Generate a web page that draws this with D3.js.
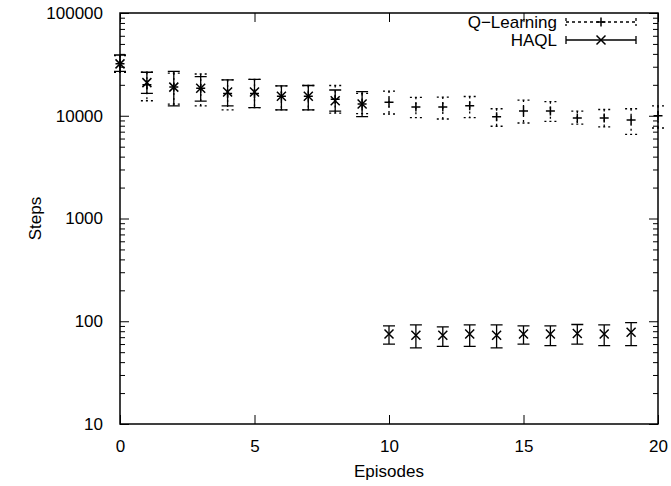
<!DOCTYPE html>
<html>
<head>
<meta charset="utf-8">
<script src="https://cdn.jsdelivr.net/npm/d3@7"></script>
<style>
  body { margin: 0; background: #fff; }
  svg { display: block; font-family: 'Liberation Sans', Arial, sans-serif; }
</style>
</head>
<body>
<script>
const width = 671
const height = 486
const margin = { top: 13, right: 13, bottom: 62, left: 120 }

// Q-Learning: episodes 0..20
const qEpisodes = [0, 1, 2, 3, 4, 5, 6, 7, 8, 9, 10, 11, 12, 13, 14, 15, 16, 17, 18, 19, 20]
const qMean = [32000, 20000, 19000, 18500, 16500, 16500, 15500, 15500, 14500, 13000, 13500, 12200, 12200, 12500, 9800, 11100, 11100, 9500, 9500, 9100, 10000]
const qLow = [26500, 14000, 13000, 12500, 11400, 12000, 11400, 11400, 10600, 10500, 10400, 9600, 9300, 9600, 7900, 8500, 8800, 8300, 7800, 6600, 7600]
const qHigh = [38500, 26500, 26000, 25500, 22300, 22600, 19500, 19700, 19700, 16500, 17400, 15100, 15200, 15400, 11700, 14200, 13700, 11100, 11500, 11700, 12500]

// HAQL: episodes 0..19
const hEpisodes = [0, 1, 2, 3, 4, 5, 6, 7, 8, 9, 10, 11, 12, 13, 14, 15, 16, 17, 18, 19]
const hMean = [32000, 21000, 19000, 18500, 17000, 17000, 15500, 15500, 14000, 13000, 75, 73, 73, 75, 73, 75, 75, 76, 75, 78]
const hLow = [27000, 16500, 12500, 13900, 12500, 12000, 11400, 11400, 11100, 9800, 60, 55, 57, 57, 55, 60, 58, 60, 58, 58]
const hHigh = [39000, 26500, 27000, 24000, 22300, 22600, 19500, 19700, 17800, 17200, 90, 92, 88, 92, 92, 90, 90, 93, 92, 97]

const xTicks = [0, 5, 10, 15, 20]
const yTicks = [10, 100, 1000, 10000, 100000]

const x = d3.scaleLinear().domain([0, 20]).range([margin.left, width - margin.right])
const y = d3.scaleLog().domain([10, 100000]).range([height - margin.bottom, margin.top])

const yMinor = []
for (const decade of [10, 100, 1000, 10000]) {
  for (let k = 2; k <= 9; k++) yMinor.push(decade * k)
}

const svg = d3.select('body').append('svg')
  .attr('width', width)
  .attr('height', height)

const fontSize = 17

// axes (ticks drawn inward, mirrored like gnuplot)
const styleAxis = (g) => {
  g.select('.domain').remove()
  g.selectAll('.tick line').attr('stroke', '#000').attr('stroke-width', 1)
  g.selectAll('.tick text').attr('font-size', fontSize).attr('fill', '#000')
    .attr('font-family', "'Liberation Sans', Arial, sans-serif")
}

svg.append('g')
  .attr('transform', `translate(0,${height - margin.bottom})`)
  .call(d3.axisBottom(x).tickValues(xTicks).tickSizeInner(-9).tickSizeOuter(0).tickPadding(16).tickFormat(d3.format('d')))
  .call(styleAxis)

svg.append('g')
  .attr('transform', `translate(0,${margin.top})`)
  .call(d3.axisTop(x).tickValues(xTicks).tickSizeInner(-9).tickSizeOuter(0).tickFormat(''))
  .call(styleAxis)

svg.append('g')
  .attr('transform', `translate(${margin.left},0)`)
  .call(d3.axisLeft(y).tickValues(yTicks).tickSizeInner(-9).tickSizeOuter(0).tickPadding(17).tickFormat(d3.format('d')))
  .call(styleAxis)

svg.append('g')
  .attr('transform', `translate(${margin.left},0)`)
  .call(d3.axisLeft(y).tickValues(yMinor).tickSizeInner(-5).tickSizeOuter(0).tickFormat(''))
  .call(styleAxis)

svg.append('g')
  .attr('transform', `translate(${width - margin.right},0)`)
  .call(d3.axisRight(y).tickValues(yTicks).tickSizeInner(-9).tickSizeOuter(0).tickFormat(''))
  .call(styleAxis)

svg.append('g')
  .attr('transform', `translate(${width - margin.right},0)`)
  .call(d3.axisRight(y).tickValues(yMinor).tickSizeInner(-5).tickSizeOuter(0).tickFormat(''))
  .call(styleAxis)

// frame
svg.append('rect')
  .attr('x', margin.left)
  .attr('y', margin.top)
  .attr('width', width - margin.left - margin.right)
  .attr('height', height - margin.top - margin.bottom)
  .attr('fill', 'none')
  .attr('stroke', '#000')
  .attr('stroke-width', 1.5)

// axis titles
svg.append('text')
  .attr('x', (margin.left + width - margin.right) / 2)
  .attr('y', 477)
  .attr('text-anchor', 'middle')
  .attr('font-size', fontSize)
  .text('Episodes')

svg.append('text')
  .attr('transform', `translate(41,${(margin.top + height - margin.bottom) / 2}) rotate(-90)`)
  .attr('text-anchor', 'middle')
  .attr('font-size', fontSize)
  .text('Steps')

const cap = 6
const mark = 4.5

const plusPath = (cx, cy) => `M${cx - mark},${cy}H${cx + mark}M${cx},${cy - mark}V${cy + mark}`
const crossPath = (cx, cy) => `M${cx - mark},${cy - mark}L${cx + mark},${cy + mark}M${cx - mark},${cy + mark}L${cx + mark},${cy - mark}`
const barPath = (cx, y0, y1) =>
  `M${cx},${y0}V${y1}M${cx - cap},${y0}H${cx + cap}M${cx - cap},${y1}H${cx + cap}`

const drawSeries = (eps, mean, low, high, dash, markPath) => {
  const g = svg.append('g').attr('fill', 'none').attr('stroke', '#000')
  g.selectAll('path.bar')
    .data(eps)
    .join('path')
    .attr('class', 'bar')
    .attr('stroke-width', 1.3)
    .attr('stroke-dasharray', dash)
    .attr('d', (d, i) => barPath(x(d), y(high[i]), y(low[i])))
  g.selectAll('path.mark')
    .data(eps)
    .join('path')
    .attr('class', 'mark')
    .attr('stroke-width', 1.5)
    .attr('d', (d, i) => markPath(x(d), y(mean[i])))
}

drawSeries(qEpisodes, qMean, qLow, qHigh, '2,3', plusPath)
drawSeries(hEpisodes, hMean, hLow, hHigh, null, crossPath)

// legend
const legend = [
  { name: 'Q\u2212Learning', dash: '3,3', mark: plusPath, y: 22 },
  { name: 'HAQL', dash: null, mark: crossPath, y: 40 }
]
const lx0 = 566
const lx1 = 636
const lg = svg.append('g')
legend.forEach((l) => {
  lg.append('text')
    .attr('x', 557)
    .attr('y', l.y)
    .attr('dy', '0.35em')
    .attr('text-anchor', 'end')
    .attr('font-size', fontSize)
    .text(l.name)
  lg.append('path')
    .attr('fill', 'none')
    .attr('stroke', '#000')
    .attr('stroke-width', 1.3)
    .attr('stroke-dasharray', l.dash)
    .attr('d', `M${lx0},${l.y}H${lx1}M${lx0},${l.y - 4}V${l.y + 4}M${lx1},${l.y - 4}V${l.y + 4}`)
  lg.append('path')
    .attr('fill', 'none')
    .attr('stroke', '#000')
    .attr('stroke-width', 1.5)
    .attr('d', l.mark((lx0 + lx1) / 2, l.y))
})
</script>
</body>
</html>
